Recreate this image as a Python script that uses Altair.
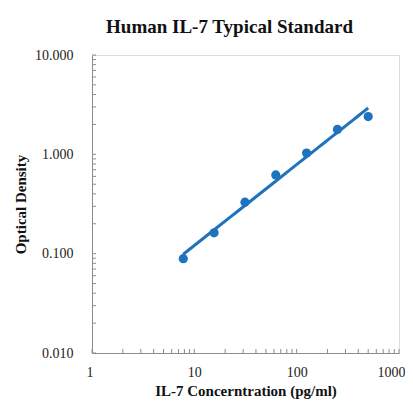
import altair as alt
import pandas as pd

conc = [7.8, 15.6, 31.25, 62.5, 125, 250, 500]
od = [0.089, 0.162, 0.33, 0.62, 1.03, 1.78, 2.40]

x_ticks = [1, 2, 3, 4, 5, 6, 7, 8, 9, 10, 20, 30, 40, 50, 60, 70, 80, 90,
           100, 200, 300, 400, 500, 600, 700, 800, 900, 1000]
y_ticks = [0.01, 0.02, 0.03, 0.04, 0.05, 0.06, 0.07, 0.08, 0.09,
           0.1, 0.2, 0.3, 0.4, 0.5, 0.6, 0.7, 0.8, 0.9,
           1, 2, 3, 4, 5, 6, 7, 8, 9, 10]

BLUE = "#1f72bd"
GRAY = "#8c8c8c"
FONT = "Liberation Serif"
W, H = 307, 298

df = pd.DataFrame({"conc": conc, "od": od})
xt = pd.DataFrame({"conc": x_ticks})
yt = pd.DataFrame({"od": y_ticks})

xscale = alt.Scale(type="log", domain=[1, 1000])
yscale = alt.Scale(type="log", domain=[0.01, 10])

xaxis = alt.Axis(
    title="IL-7 Concerntration (pg/ml)", values=[1, 10, 100, 1000], format="d",
    grid=False, ticks=False, tickSize=0, domainColor=GRAY, labelFont=FONT,
    labelFontSize=14, labelColor="#222", labelPadding=12, titleFont=FONT,
    labelFlush=True, labelFlushOffset=6,
    titleFontSize=15, titleFontWeight="bold", titleColor="#111", titlePadding=4,
)
yaxis = alt.Axis(
    title="Optical Density", values=[0.01, 0.1, 1, 10], format=".3f",
    grid=False, ticks=False, tickSize=0, domainColor=GRAY, labelFont=FONT,
    labelFontSize=14, labelColor="#222", labelPadding=19, titleFont=FONT,
    labelFlush=False,
    titleFontSize=15, titleFontWeight="bold", titleColor="#111", titlePadding=6,
)

points = alt.Chart(df).mark_circle(size=85, color=BLUE, opacity=1).encode(
    x=alt.X("conc:Q", scale=xscale, axis=xaxis),
    y=alt.Y("od:Q", scale=yscale, axis=yaxis),
)

fit = alt.Chart(df).transform_regression(
    "conc", "od", method="pow", extent=[7.8, 500]
).mark_line(color=BLUE, strokeWidth=3).encode(
    x=alt.X("conc:Q", scale=xscale, axis=xaxis),
    y=alt.Y("od:Q", scale=yscale, axis=yaxis),
)

xtick_layer = alt.Chart(xt).mark_rule(color=GRAY, strokeWidth=1).encode(
    x=alt.X("conc:Q", scale=xscale, axis=xaxis),
    y=alt.value(H),
    y2=alt.value(H - 4),
)
ytick_layer = alt.Chart(yt).mark_rule(color=GRAY, strokeWidth=1).encode(
    y=alt.Y("od:Q", scale=yscale, axis=yaxis),
    x=alt.value(0),
    x2=alt.value(4),
)

chart = alt.layer(xtick_layer, ytick_layer, fit, points).properties(
    width=W,
    height=H,
    title=alt.TitleParams(
        "Human IL-7 Typical Standard", font=FONT, fontSize=19,
        fontWeight="bold", color="#111", anchor="middle", dx=-16, offset=11,
    ),
    autosize=alt.AutoSizeParams(type="none"),
    padding={"left": 84, "top": 47, "right": 6, "bottom": 48},
).configure_view(stroke=None).configure(background="white")

chart.save("out.html", embed_options={"renderer": "svg", "actions": False})
